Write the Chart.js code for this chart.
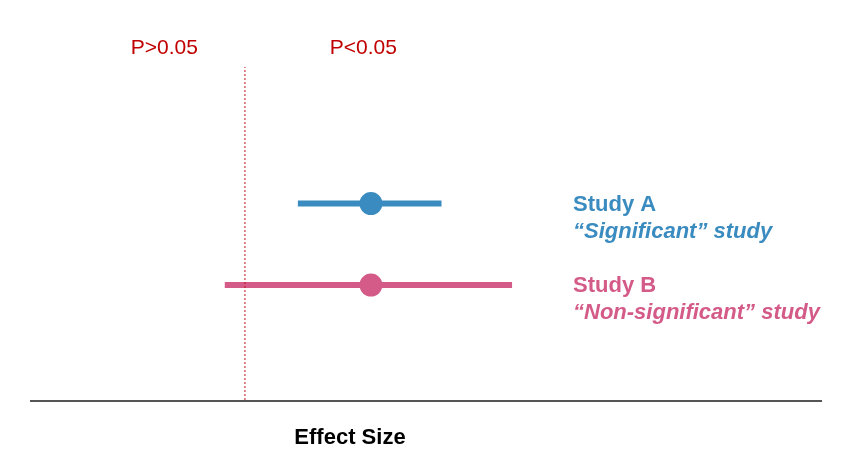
<!DOCTYPE html>
<html>
<head>
<meta charset="utf-8">
<script src="https://cdn.jsdelivr.net/npm/chart.js@4"></script>
<style>
  html, body { margin: 0; padding: 0; background: #fff; }
  #wrap { width: 848px; height: 476px; }
</style>
</head>
<body>
<div id="wrap"><canvas id="c" width="848" height="476"></canvas></div>
<script>
// data (effect size units, null effect at 0)
const studies = ['Study A', 'Study B'];
const subtitles = ['\u201cSignificant\u201d study', '\u201cNon-significant\u201d study'];
const estimates = [0.5, 0.5];
const ciLow = [0.21, -0.08];
const ciHigh = [0.78, 1.06];
const rowY = [0.59, 0.345];
const nullEffect = 0;
const pLabels = ['P>0.05', 'P<0.05'];
const pLabelX = [-0.32, 0.47];
const colors = ['#3a8bbf', '#d45a88'];

const datasets = [];
// dashed null line
datasets.push({
  data: [{ x: nullEffect, y: 0 }, { x: nullEffect, y: 1 }],
  showLine: true, borderColor: '#c0101a', borderWidth: 1, borderDash: [2, 2],
  pointRadius: 0
});
studies.forEach((s, i) => {
  datasets.push({
    data: [{ x: ciLow[i], y: rowY[i] }, { x: ciHigh[i], y: rowY[i] }],
    showLine: true, borderColor: colors[i], borderWidth: 6, borderCapStyle: 'butt',
    pointRadius: 0
  });
  datasets.push({
    data: [{ x: estimates[i], y: rowY[i] }],
    pointRadius: 11.5, backgroundColor: colors[i], borderWidth: 0
  });
});

const textPlugin = {
  id: 'texts',
  afterDraw(chart) {
    const ctx = chart.ctx;
    const xs = chart.scales.x, ys = chart.scales.y;
    const area = chart.chartArea;
    ctx.save();
    // baseline
    ctx.strokeStyle = '#555';
    ctx.lineWidth = 2;
    ctx.beginPath();
    ctx.moveTo(area.left, area.bottom + 1);
    ctx.lineTo(area.right, area.bottom + 1);
    ctx.stroke();
    // p labels
    ctx.fillStyle = '#c00000';
    ctx.font = '21px "Liberation Sans", Arial, sans-serif';
    ctx.textAlign = 'center';
    ctx.textBaseline = 'middle';
    pLabels.forEach((t, i) => ctx.fillText(t, xs.getPixelForValue(pLabelX[i]), 48));
    // study labels
    ctx.textAlign = 'left';
    studies.forEach((s, i) => {
      const y = ys.getPixelForValue(rowY[i]);
      ctx.fillStyle = colors[i];
      ctx.font = 'bold 22px "Liberation Sans", Arial, sans-serif';
      ctx.fillText(s, 573, y + 1);
      ctx.font = 'italic bold 22px "Liberation Sans", Arial, sans-serif';
      ctx.fillText(subtitles[i], 573, y + 28);
    });
    // axis title
    ctx.fillStyle = '#000';
    ctx.font = 'bold 22px "Liberation Sans Narrow", "Liberation Sans", Arial, sans-serif';
    ctx.textAlign = 'center';
    ctx.fillText('Effect Size', 350, 438);
    ctx.restore();
  }
};

new Chart(document.getElementById('c'), {
  type: 'scatter',
  data: { datasets },
  options: {
    responsive: false,
    animation: false,
    layout: { padding: { left: 30, right: 26, top: 67, bottom: 76 } },
    plugins: { legend: { display: false }, tooltip: { enabled: false } },
    scales: {
      x: { type: 'linear', min: -0.853, max: 2.29, display: false },
      y: { type: 'linear', min: 0, max: 1, display: false }
    }
  },
  plugins: [textPlugin]
});
</script>
</body>
</html>
